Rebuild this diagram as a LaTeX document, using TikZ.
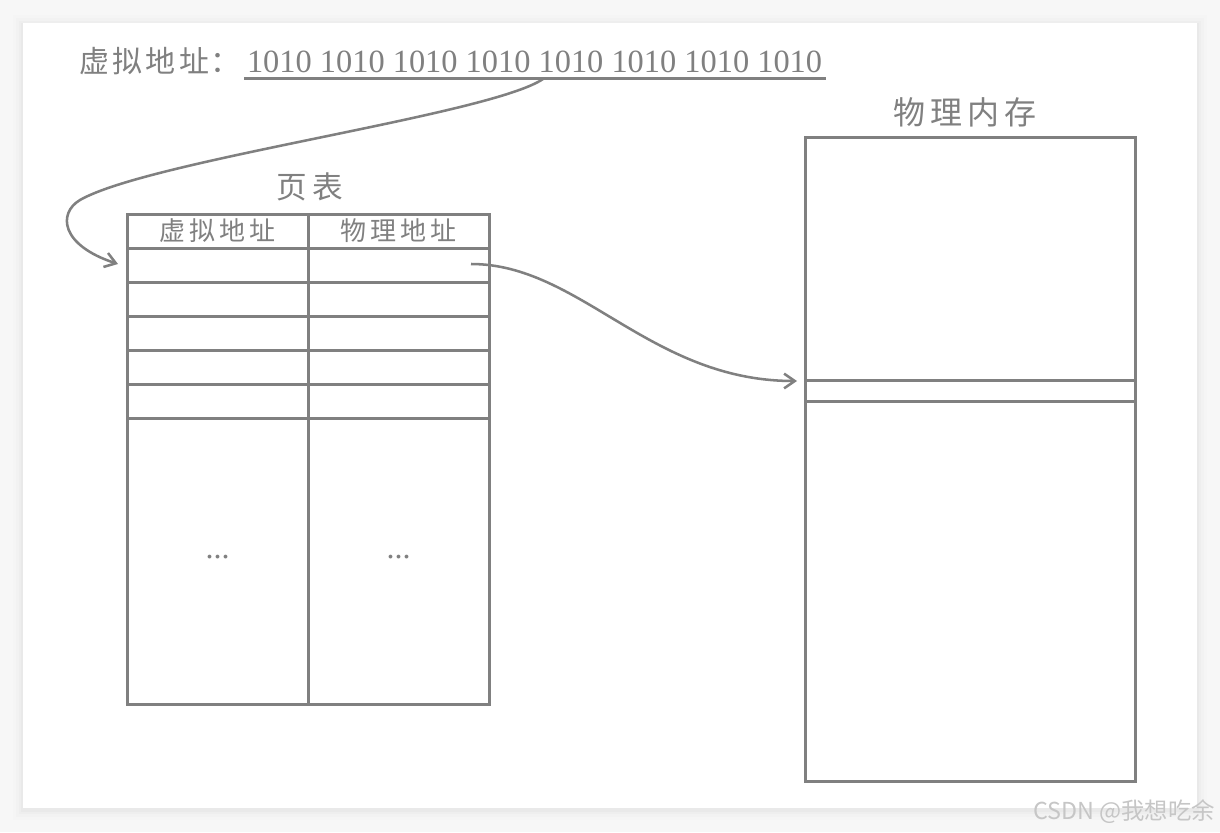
\documentclass[tikz,border=0pt]{standalone}
\usepackage{fontspec}
\setmainfont{Liberation Serif}
\newfontfamily\cjk{Noto Sans CJK SC}
\usetikzlibrary{arrows.meta}
\definecolor{ln}{HTML}{808080}
\definecolor{bgc}{HTML}{F7F7F7}
\definecolor{wm}{HTML}{C6C6C6}
\begin{document}
\begin{tikzpicture}[x=0.75pt,y=-0.75pt,
  ln/.style={draw=ln,line width=2.25pt},
  lbl/.style={text=ln,inner sep=0pt,outer sep=0pt},
  conn/.style={draw=ln,line width=1.9pt,-{Straight Barb[length=8pt,width=11pt,line width=1.9pt]}}]
% background and card
\fill[bgc] (0,0) rectangle (1220,832);
\useasboundingbox (0,0) rectangle (1220,832);
\foreach \d/\o in {10/0.008,7/0.012,4/0.015,2/0.018}{
  \fill[black,opacity=\o] (23-\d,23-\d+2) rectangle (1197+\d,808+\d+2);
}
\fill[white] (23,23) rectangle (1197,808);

% top address
\node[lbl,anchor=west] (vlab) at (79,61) {\cjk\fontsize{22.5pt}{22.5pt}\selectfont 虚\hspace{2.6pt}拟\hspace{2.6pt}地\hspace{2.6pt}址\hspace{1pt}：};
\node[lbl,anchor=base west] (vaddr) at (247,72) {\fontsize{24.3pt}{24.3pt}\selectfont 1010 1010 1010 1010 1010 1010 1010 1010};
\draw[ln] (244,78) -- (826,78);
\coordinate (vstart) at (543,79);

% page table
\node[lbl] (pttitle) at (310,187) {\cjk\fontsize{23pt}{23pt}\selectfont 页\hspace{4pt}表};
\draw[ln] (127,214) rectangle (489,704);
\draw[ln] (308,214) -- (308,704);
\foreach \yy in {248,282,316,350,384,418}{
  \draw[ln] (127,\yy) -- (489,\yy);
}
\node[lbl] (h1) at (217.5,231) {\cjk\fontsize{19.5pt}{19.5pt}\selectfont 虚\hspace{3pt}拟\hspace{3pt}地\hspace{3pt}址};
\node[lbl] (h2) at (398.5,231) {\cjk\fontsize{19.5pt}{19.5pt}\selectfont 物\hspace{3pt}理\hspace{3pt}地\hspace{3pt}址};
\node[lbl,anchor=base] (d1) at (217.5,558) {\fontsize{24pt}{24pt}\selectfont ...};
\node[lbl,anchor=base] (d2) at (398.5,558) {\fontsize{24pt}{24pt}\selectfont ...};
\coordinate (r1in) at (118,264);
\coordinate (r1out) at (471,264);

% physical memory
\node[lbl] (memtitle) at (965,112) {\cjk\fontsize{24pt}{24pt}\selectfont 物\hspace{3.75pt}理\hspace{3.75pt}内\hspace{3.75pt}存};
\draw[ln] (805,137) rectangle (1135,781);
\draw[ln] (805,380) -- (1135,380);
\draw[ln] (805,401) -- (1135,401);
\coordinate (slotin) at (797,381);

% connectors
\draw[conn] (vstart) .. controls (490,115) and (150,160) .. (80,200)
   .. controls (58,213) and (60,245) .. (r1in);
\draw[conn] (r1out) .. controls (580,264) and (650,381) .. (slotin);

% watermark
\node[inner sep=0pt,text=wm] (wmark) at (1124,812) {\cjk\fontsize{17.5pt}{17.5pt}\selectfont CSDN @我想吃余};
\end{tikzpicture}
\end{document}
